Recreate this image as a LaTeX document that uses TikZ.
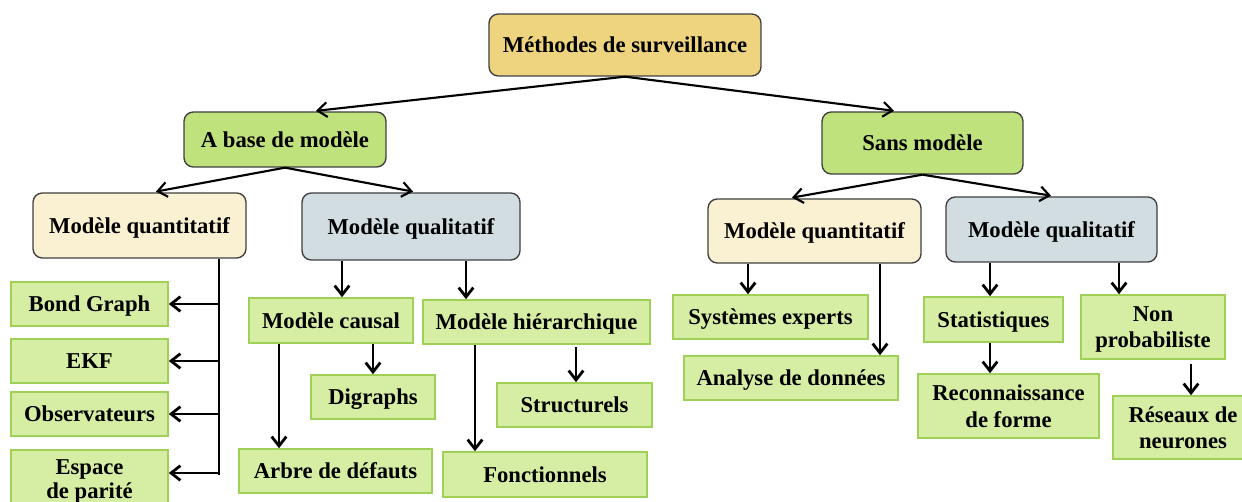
\documentclass[tikz,border=0pt]{standalone}
\usepackage{fontspec}
\setmainfont{Liberation Serif}
\usetikzlibrary{arrows.meta}
\definecolor{gold}{HTML}{EFD47F}
\definecolor{midgreen}{HTML}{C0E27C}
\definecolor{cream}{HTML}{FAF0D2}
\definecolor{greyblue}{HTML}{D1DDE1}
\definecolor{lgfill}{HTML}{D6EDA4}
\definecolor{lgborder}{HTML}{9FD159}
\begin{document}
\begin{tikzpicture}[x=0.75pt,y=-0.75pt,
  every node/.style={font=\bfseries\fontsize{17}{20}\selectfont, align=center, inner sep=0pt, text depth=0pt},
  sz/.style 2 args={minimum width=#1*0.75pt, minimum height=#2*0.75pt},
  rbox/.style={draw=black!75, line width=1pt, rounded corners=7pt},
  gbox/.style={draw=lgborder, fill=lgfill, line width=1.2pt},
  arr/.style={-{Straight Barb[length=7pt,width=11pt]}, line width=2.1pt},
  tarr/.style={-{Straight Barb[length=7pt,width=11pt]}, line width=1.6pt, shorten >=3pt}]
\useasboundingbox (0,0) rectangle (1242,502);
\clip (0,0) rectangle (1242,502);
\fill[white] (0,0) rectangle (1242,502);

% level 1 and 2
\node[rbox, fill=gold, sz={272}{62}] (top) at (625,45) {Méthodes de surveillance};
\node[rbox, fill=midgreen, sz={202}{55}] (abase) at (285,139.5) {A base de modèle};
\node[rbox, fill=midgreen, sz={201}{62}] (sans) at (922.5,143) {Sans modèle};

% level 3
\node[rbox, fill=cream, sz={213}{65}] (lquant) at (139.5,225.5) {Modèle quantitatif};
\node[rbox, fill=greyblue, sz={218}{67}] (lqual) at (411,226.5) {Modèle qualitatif};
\node[rbox, fill=cream, sz={213}{64}] (rquant) at (814.5,231) {Modèle quantitatif};
\node[rbox, fill=greyblue, sz={211}{65}] (rqual) at (1051.5,229.5) {Modèle qualitatif};

% level 4 left
\node[gbox, sz={157}{44}] (bond) at (89.5,304) {Bond Graph};
\node[gbox, sz={157}{44}] (ekf) at (89.5,361) {EKF};
\node[gbox, sz={157}{44}] (obs) at (89.5,414) {Observateurs};
\node[gbox, sz={157}{58}, font=\bfseries\fontsize{17}{18.5}\selectfont] (esp) at (89.5,479) {Espace\\de parité};

\node[gbox, sz={164}{45}] (causal) at (331,320.5) {Modèle causal};
\node[gbox, sz={227}{44}] (hier) at (536.5,322) {Modèle hiérarchique};
\node[gbox, sz={124}{44}] (digraphs) at (373,397) {Digraphs};
\node[gbox, sz={155}{44}] (struct) at (574.5,405) {Structurels};
\node[gbox, sz={193}{44}] (arbre) at (335.5,471) {Arbre de défauts};
\node[gbox, sz={204}{45}] (fonct) at (545,474.5) {Fonctionnels};

% level 4 right
\node[gbox, sz={195}{44}] (syst) at (770.5,317) {Systèmes experts};
\node[gbox, sz={214}{44}] (analyse) at (791,378) {Analyse de données};
\node[gbox, sz={139}{45}] (stat) at (993.5,319.5) {Statistiques};
\node[gbox, sz={144}{64}] (nonprob) at (1153,327) {Non\\probabiliste};
\node[gbox, sz={181}{64}] (recon) at (1008.5,406) {Reconnaissance\\de forme};
\node[gbox, sz={140}{63}] (reseaux) at (1183,427.5) {Réseaux de\\neurones};

% top arrows
\draw[tarr] (top.south) -- (abase.north -| 312,0);
\draw[tarr] (top.south) -- (sans.north -| 898,0);
\draw[tarr] (abase.south) -- (lquant.north -| 152,0);
\draw[tarr] (abase.south) -- (lqual.north -| 417,0);
\draw[tarr] (sans.south) -- (rquant.north -| 788,0);
\draw[tarr] (sans.south) -- (rqual.north -| 1055,0);

% left quantitatif bus
\coordinate (busend) at (219,475);
\draw[line width=1.5pt] (lquant.south -| busend) -- (busend);
\draw[arr] (bond.east -| busend) -- (bond.east);
\draw[arr] (ekf.east -| busend) -- (ekf.east);
\draw[arr] (obs.east -| busend) -- (obs.east);
\draw[arr] (busend |- 0,473) -- (esp.east |- 0,473);

% left qualitatif
\draw[arr] (lqual.south -| 342,0) -- (causal.north -| 342,0);
\draw[arr] (lqual.south -| 466,0) -- (hier.north -| 466,0);
\draw[arr] (causal.south -| 279,0) -- (arbre.north -| 279,0);
\draw[arr] (causal.south -| 373,0) -- (digraphs.north);
\draw[arr] (hier.south -| 475,0) -- (fonct.north -| 475,0);
\draw[arr] ([yshift=-2pt]hier.south -| 576,0) -- (struct.north -| 576,0);

% right side
\draw[arr] (rquant.south -| 748,0) -- (syst.north -| 748,0);
\draw[arr] (rquant.south -| 880,0) -- (analyse.north -| 880,0);
\draw[arr] (rqual.south -| 990,0) -- (stat.north -| 990,0);
\draw[arr] (rqual.south -| 1119,0) -- (nonprob.north -| 1119,0);
\draw[arr] (stat.south -| 990,0) -- (recon.north -| 990,0);
\draw[arr] ([yshift=-3pt]nonprob.south -| 1191,0) -- (reseaux.north -| 1191,0);
\end{tikzpicture}
\end{document}
